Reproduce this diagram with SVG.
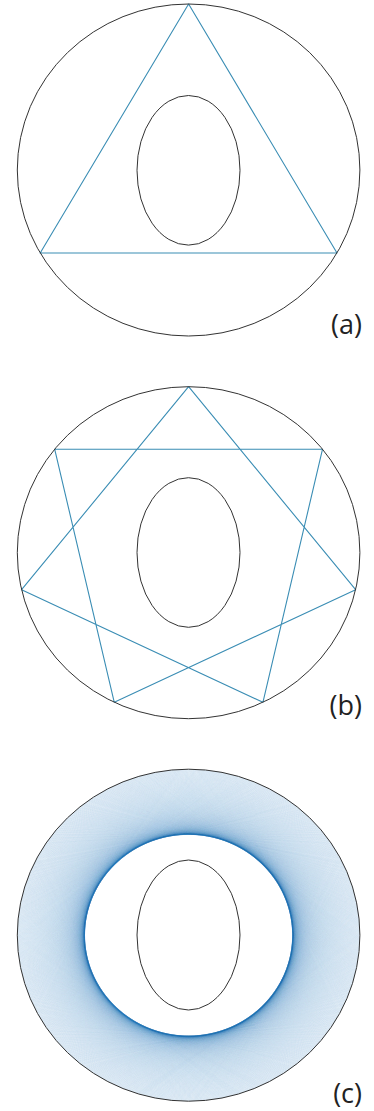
<svg xmlns="http://www.w3.org/2000/svg" width="374" height="1111" viewBox="0 0 374 1111">
<style>
.outer{fill:none;stroke:#333;stroke-width:1}
.inner{fill:none;stroke:#333;stroke-width:1}
.poly{fill:none;stroke:#3a8db4;stroke-width:1.1;stroke-linejoin:round}
.chord{stroke:#2171b5;stroke-width:1;stroke-opacity:0.06}
.lbl{font-family:"Open Sans","Noto Sans","Liberation Sans",sans-serif;font-size:27px;fill:#222;text-anchor:end}
</style>
<defs>
<line id="ch" class="chord" x1="-131.9" y1="-100.8" x2="131.9" y2="-100.8"/>
<g id="g1">
<use href="#ch"/>
<use href="#ch" transform="rotate(0.3)"/>
<use href="#ch" transform="rotate(0.6)"/>
<use href="#ch" transform="rotate(0.9)"/>
<use href="#ch" transform="rotate(1.2)"/>
<use href="#ch" transform="rotate(1.5)"/>
<use href="#ch" transform="rotate(1.8)"/>
<use href="#ch" transform="rotate(2.1)"/>
<use href="#ch" transform="rotate(2.4)"/>
<use href="#ch" transform="rotate(2.7)"/>
</g>
<g id="g2">
<use href="#g1"/>
<use href="#g1" transform="rotate(3)"/>
<use href="#g1" transform="rotate(6)"/>
<use href="#g1" transform="rotate(9)"/>
<use href="#g1" transform="rotate(12)"/>
<use href="#g1" transform="rotate(15)"/>
<use href="#g1" transform="rotate(18)"/>
<use href="#g1" transform="rotate(21)"/>
<use href="#g1" transform="rotate(24)"/>
<use href="#g1" transform="rotate(27)"/>
<use href="#g1" transform="rotate(30)"/>
<use href="#g1" transform="rotate(33)"/>
</g>
</defs>
<rect width="374" height="1111" fill="#fff"/>

<g id="panel-a">
<polygon class="poly" points="188.6,4 337,253 40.2,253"/>
<ellipse class="inner" cx="188.5" cy="170.3" rx="51.5" ry="74.8"/>
<ellipse class="outer" cx="188.6" cy="170" rx="171.3" ry="166"/>
<text class="lbl" x="362" y="334">(a)</text>
</g>

<g id="panel-b">
<polygon class="poly" points="188.6,386.7 355.61,589.64 114.28,702.26 54.67,449.2 322.53,449.2 262.92,702.26 21.59,589.64"/>
<ellipse class="inner" cx="188.5" cy="552.5" rx="51.5" ry="74.8"/>
<ellipse class="outer" cx="188.6" cy="552.7" rx="171.3" ry="166"/>
<text class="lbl" x="362" y="715">(b)</text>
</g>

<g id="panel-c">
<g id="chords" transform="translate(188.6,935.2) scale(1.032,1)">
<use href="#g2"/>
<use href="#g2" transform="rotate(36)"/>
<use href="#g2" transform="rotate(72)"/>
<use href="#g2" transform="rotate(108)"/>
<use href="#g2" transform="rotate(144)"/>
<use href="#g2" transform="rotate(180)"/>
<use href="#g2" transform="rotate(216)"/>
<use href="#g2" transform="rotate(252)"/>
<use href="#g2" transform="rotate(288)"/>
<use href="#g2" transform="rotate(324)"/>
</g>
<ellipse class="inner" cx="188.5" cy="935" rx="51.5" ry="75"/>
<ellipse class="outer" cx="188.6" cy="935.2" rx="171.3" ry="166"/>
<text class="lbl" x="362" y="1103">(c)</text>
</g>
</svg>
